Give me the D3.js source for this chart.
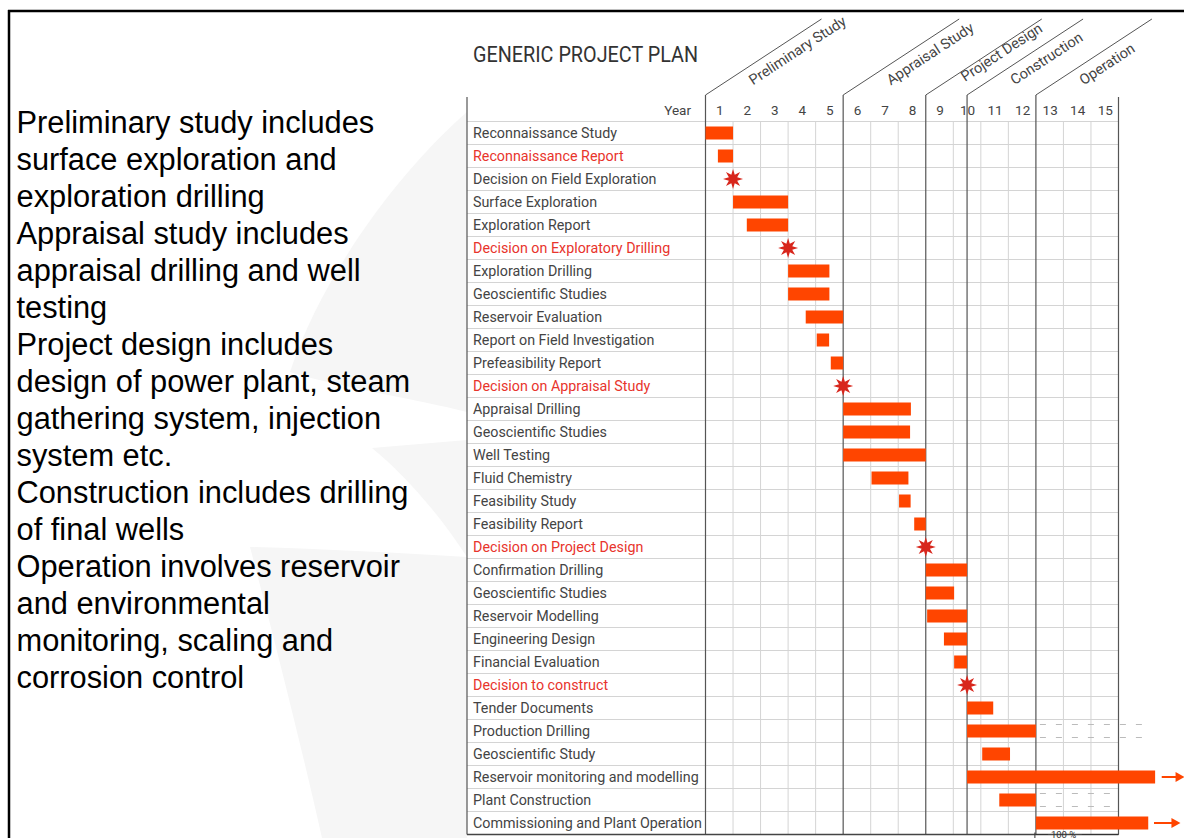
<!DOCTYPE html>
<html>
<head>
<meta charset="utf-8">
<script src="https://cdn.jsdelivr.net/npm/d3@7"></script>
<style>
html, body { margin: 0; padding: 0; background: #fff; overflow: hidden; }
svg { display: block; }
</style>
</head>
<body>
<script>
// ---- data (years counted from start of year 1) ----
const tasks = [
  "Reconnaissance Study", "Reconnaissance Report", "Decision on Field Exploration",
  "Surface Exploration", "Exploration Report", "Decision on Exploratory Drilling",
  "Exploration Drilling", "Geoscientific Studies", "Reservoir Evaluation",
  "Report on Field Investigation", "Prefeasibility Report", "Decision on Appraisal Study",
  "Appraisal Drilling", "Geoscientific Studies", "Well Testing", "Fluid Chemistry",
  "Feasibility Study", "Feasibility Report", "Decision on Project Design",
  "Confirmation Drilling", "Geoscientific Studies", "Reservoir Modelling",
  "Engineering Design", "Financial Evaluation", "Decision to construct",
  "Tender Documents", "Production Drilling", "Geoscientific Study",
  "Reservoir monitoring and modelling", "Plant Construction", "Commissioning and Plant Operation"
];
const barStart = [0, 0.45, null, 1, 1.5, null, 3, 3, 3.64, 4.04, 4.55, null, 5, 5, 5, 6.03,
  7.03, 7.58, null, 8, 8, 8.05, 8.66, 9.03, null, 9.5, 9.5, 10.05, 9.5, 10.67, 12];
const barEnd = [1, 1, null, 3, 3, null, 4.5, 4.5, 5, 4.49, 5, null, 7.46, 7.43, 8, 7.37,
  7.45, 8, null, 9.5, 9.03, 9.5, 9.5, 9.5, null, 10.45, 12, 11.06, 16.33, 12, 16.08];
const milestone = [null, null, 1, null, null, 3, null, null, null, null, null, 5,
  null, null, null, null, null, null, 8, null, null, null, null, null, 9.5,
  null, null, null, null, null, null];
const redLabel = [1, 5, 11, 18, 24];

const years = d3.range(1, 16);
const phases = ["Preliminary Study", "Appraisal Study", "Project Design", "Construction", "Operation"];
const phaseStart = [0, 5, 8, 9.5, 12];
const phaseEnd = 15;

const dashRows = [26, 29];
const dashTo = [16.15, 14.95];
const arrowRows = [28, 30];
const arrowFrom = [16.57, 16.29];
const arrowTo = [17.4, 17.25];

const notes = [
  "Preliminary study includes", "surface exploration and", "exploration drilling",
  "Appraisal study includes", "appraisal drilling and well", "testing",
  "Project design includes", "design of power plant, steam", "gathering system, injection",
  "system etc.", "Construction includes drilling", "of final wells",
  "Operation involves reservoir", "and environmental", "monitoring, scaling and",
  "corrosion control"
];

// ---- layout ----
const W = 1184, H = 838;
const barColor = "#ff4500", starColor = "#d8261c", red = "#e8342c", ink = "#444";
const labelFont = "Roboto, 'Open Sans', sans-serif";

const x = d3.scaleLinear().domain([0, 15]).range([705.5, 1118.5]);
const y = d3.scaleBand().domain(d3.range(tasks.length)).range([121.5, 834.5]);
const tableLeft = 467, headTop = 95;

const svg = d3.select("body").append("svg")
  .attr("width", W).attr("height", H);

svg.append("rect").attr("width", W).attr("height", H).attr("fill", "#fff");

// faint watermark swoosh
const wm = svg.append("g").attr("fill", "#f6f6f6");
wm.append("path").attr("d", "M467,112 C400,170 322,275 290,372 C330,385 420,400 467,412 Z");
wm.append("path").attr("d", "M372,448 C405,475 440,515 467,557 L467,440 Z");
wm.append("path").attr("d", "M250,547 C320,549 400,553 467,557 L467,838 L322,838 C300,740 272,630 250,547 Z");

// frame
svg.append("line").attr("x1", 8).attr("x2", W).attr("y1", 11).attr("y2", 11)
  .attr("stroke", "#000").attr("stroke-width", 2.5);
svg.append("line").attr("x1", 9).attr("x2", 9).attr("y1", 10).attr("y2", H)
  .attr("stroke", "#000").attr("stroke-width", 2.5);

// notes on the left
svg.append("g").selectAll("text").data(notes).join("text")
  .attr("x", 16.5).attr("y", (d, i) => 133 + i * 37)
  .attr("font-family", "'Liberation Sans', Arial, sans-serif")
  .attr("font-size", 30.8).attr("fill", "#000")
  .text(d => d);

// table background
svg.append("rect").attr("x", tableLeft).attr("y", headTop)
  .attr("width", x(15) - tableLeft).attr("height", H - headTop).attr("fill", "#fff");

// title
svg.append("text").attr("x", 473).attr("y", 62)
  .attr("font-family", labelFont).attr("font-size", 22).attr("fill", "#333")
  .attr("textLength", 225).attr("lengthAdjust", "spacingAndGlyphs")
  .text("GENERIC PROJECT PLAN");

// light grid
const grid = svg.append("g").attr("stroke", "#d4d4d4").attr("stroke-width", 1);
grid.selectAll(".h").data(d3.range(tasks.length)).join("line")
  .attr("x1", tableLeft).attr("x2", x(15))
  .attr("y1", i => y(i)).attr("y2", i => y(i));
grid.selectAll(".v").data(d3.range(1, 15).filter(t => !phaseStart.includes(t))).join("line")
  .attr("x1", t => x(t)).attr("x2", t => x(t))
  .attr("y1", y(0)).attr("y2", y.range()[1]);

// dashed extensions
const dash = svg.append("g").attr("stroke", "#bbb").attr("stroke-dasharray", "6,10");
dashRows.forEach((r, k) => {
  [y(r) + 5, y(r) + y.bandwidth() - 5].forEach(yy => {
    dash.append("line").attr("x1", x(barEnd[r]) + 4).attr("x2", x(dashTo[k]))
      .attr("y1", yy).attr("y2", yy);
  });
});

// phase boundaries + diagonal headers
const dx = 116, dy = 76, ang = Math.atan2(dy, dx) * 180 / Math.PI;
const ph = svg.append("g");
phaseStart.forEach((p, i) => {
  const px = x(p);
  ph.append("line").attr("x1", px).attr("x2", px).attr("y1", headTop).attr("y2", y.range()[1])
    .attr("stroke", "#555").attr("stroke-width", 1.2);
  ph.append("line").attr("x1", px).attr("y1", headTop).attr("x2", px + dx).attr("y2", headTop - dy)
    .attr("stroke", "#555").attr("stroke-width", 1);
  const w = x(i < phases.length - 1 ? phaseStart[i + 1] : phaseEnd) - px;
  const v = Math.min(18, w * 0.26), u = v < 17 ? 40 : 45;
  ph.append("text")
    .attr("transform", `translate(${px},${headTop}) rotate(${-ang}) translate(${u},${v})`)
    .attr("font-family", labelFont).attr("font-size", 14.5).attr("fill", ink)
    .text(phases[i]);
});
ph.append("line").attr("x1", x(15)).attr("x2", x(15)).attr("y1", headTop + 2).attr("y2", y.range()[1])
  .attr("stroke", "#555").attr("stroke-width", 1.2);
ph.append("line").attr("x1", tableLeft).attr("x2", tableLeft).attr("y1", headTop + 2).attr("y2", y.range()[1])
  .attr("stroke", "#555").attr("stroke-width", 1.2);
ph.append("line").attr("x1", tableLeft).attr("x2", x(15)).attr("y1", y.range()[1]).attr("y2", y.range()[1])
  .attr("stroke", "#444").attr("stroke-width", 1.5);

// year header via axis
const yearAxis = d3.axisTop(x).tickValues(years.map(d => d - 0.5))
  .tickFormat(d => d + 0.5).tickSize(0).tickPadding(0);
const ya = svg.append("g").attr("transform", "translate(0,115)").call(yearAxis);
ya.select(".domain").remove();
ya.selectAll("text").attr("font-family", labelFont).attr("font-size", 13.5).attr("fill", ink);
svg.append("text").attr("x", 691).attr("y", 115).attr("text-anchor", "end")
  .attr("font-family", labelFont).attr("font-size", 13.5).attr("fill", ink).text("Year");

// row labels
svg.append("g").selectAll("text").data(tasks).join("text")
  .attr("x", 473).attr("y", (d, i) => y(i) + y.bandwidth() / 2 + 5)
  .attr("font-family", labelFont).attr("font-size", 14.3)
  .attr("fill", (d, i) => redLabel.includes(i) ? red : ink)
  .text(d => d);

// bars
const bh = 13;
svg.append("g").selectAll("rect").data(d3.range(tasks.length).filter(i => barStart[i] != null)).join("rect")
  .attr("x", i => x(barStart[i])).attr("width", i => x(barEnd[i]) - x(barStart[i]))
  .attr("y", i => y(i) + (y.bandwidth() - bh) / 2).attr("height", bh)
  .attr("fill", barColor);

// milestones (8-point stars)
const starPts = d3.range(16).map(k => [k * Math.PI / 8, k % 2 ? 4.5 : 10]);
const star = d3.lineRadial().curve(d3.curveLinearClosed)(starPts);
svg.append("g").selectAll("path").data(d3.range(tasks.length).filter(i => milestone[i] != null)).join("path")
  .attr("transform", i => `translate(${x(milestone[i])},${y(i) + y.bandwidth() / 2})`)
  .attr("d", star).attr("fill", starColor);

// continuation arrows
const ar = svg.append("g").attr("stroke", barColor).attr("fill", barColor);
arrowRows.forEach((r, k) => {
  const cy = y(r) + y.bandwidth() / 2, x2 = x(arrowTo[k]);
  ar.append("line").attr("x1", x(arrowFrom[k])).attr("x2", x2 - 6).attr("y1", cy).attr("y2", cy)
    .attr("stroke-width", 2);
  ar.append("path").attr("stroke", "none")
    .attr("d", `M${x2},${cy} L${x2 - 9},${cy - 5} L${x2 - 9},${cy + 5} Z`);
});

// 100 % dimension at bottom
const b = y.range()[1];
const dim = svg.append("g").attr("stroke", "#333").attr("stroke-width", 1);
dim.append("line").attr("x1", x(12) - 1).attr("x2", x(12) - 1).attr("y1", b - 2).attr("y2", H);
dim.append("line").attr("x1", x(12)).attr("x2", x(12) + 12).attr("y1", b).attr("y2", b);
dim.append("line").attr("x1", x(12) + 46).attr("x2", x(15)).attr("y1", b).attr("y2", b);
svg.append("text").attr("x", x(12) + 15).attr("y", H - 0.5)
  .attr("font-family", labelFont).attr("font-size", 9.5).attr("fill", "#333").text("100 %");
</script>
</body>
</html>
